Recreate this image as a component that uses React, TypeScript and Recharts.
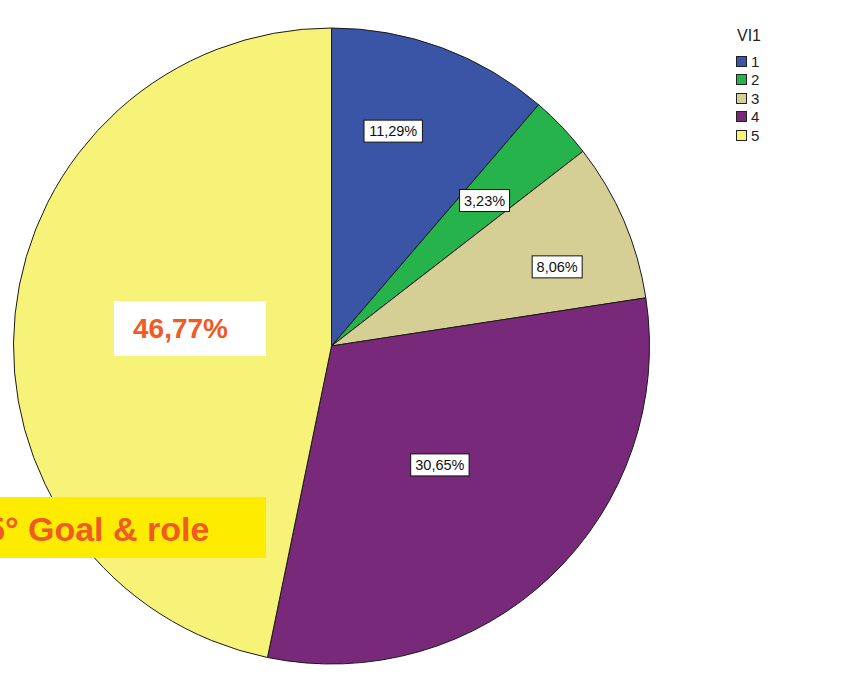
import React from "react";
import { Cell, Legend, Pie, PieChart } from "recharts";

const categories = ["1", "2", "3", "4", "5"];
// counts out of 62 respondents
const counts = [7, 2, 5, 19, 29];
const sliceLabels = ["11,29%", "3,23%", "8,06%", "30,65%", "46,77%"];
const colors = ["#3a55a5", "#27b34b", "#d5cf95", "#79297a", "#f6f378"];
const legendTitle = "VI1";
const bigLabel = "46,77%";
const bannerText = "5° Goal & role";

const data = categories.map((name, i) => ({
  name,
  value: counts[i],
  label: sliceLabels[i],
}));

const FONT = "'Liberation Sans', Arial, sans-serif";
const RADIAN = Math.PI / 180;
// label placement relative to each slice's middle
const labelRadius = [0.703, 0.664, 0.752, 0.506, 0.5];
const labelNudge = [4.3, 0, -3.9, -1.2, 0];

const renderLabel = (props: any) => {
  const { cx, cy, midAngle, outerRadius, index } = props;
  // the big slice's own label sits under the white overlay box
  if (index === 4) return null;
  const r = outerRadius * labelRadius[index];
  const a = (midAngle + labelNudge[index]) * RADIAN;
  const x = cx + r * Math.cos(-a);
  const y = cy + r * Math.sin(-a);
  const text = data[index].label;
  const w = text.length * 8.4 + 8;
  const h = 22;
  return (
    <g>
      <rect
        x={x - w / 2}
        y={y - h / 2}
        width={w}
        height={h}
        fill="#fff"
        stroke="#111"
        strokeWidth={1}
      />
      <text
        x={x}
        y={y + 5}
        textAnchor="middle"
        fontSize={14.5}
        fontFamily={FONT}
        fill="#111"
      >
        {text}
      </text>
    </g>
  );
};

const LegendContent = ({ payload }: any) => (
  <div style={{ fontFamily: FONT, color: "#222" }}>
    <div style={{ fontSize: 16, lineHeight: "18px", marginLeft: 1 }}>
      {legendTitle}
    </div>
    <div style={{ marginTop: 7 }}>
      {(payload || []).map((p: any, i: number) => (
        <div
          key={i}
          style={{
            display: "flex",
            alignItems: "center",
            height: 18.5,
            fontSize: 15,
          }}
        >
          <span
            style={{
              display: "inline-block",
              width: 9,
              height: 9,
              background: p.color,
              border: "1px solid #222",
              marginRight: 4,
            }}
          />
          {p.value}
        </div>
      ))}
    </div>
  </div>
);

export default function App() {
  return (
    <div
      style={{
        position: "absolute",
        left: 0,
        top: 0,
        width: 845,
        height: 680,
        background: "#fff",
        overflow: "hidden",
      }}
    >
      <PieChart width={845} height={680}>
        <Pie
          data={data}
          dataKey="value"
          nameKey="name"
          cx={326.5}
          cy={341}
          outerRadius={318}
          startAngle={90}
          endAngle={-270}
          stroke="#1a1a1a"
          strokeWidth={1}
          label={renderLabel}
          labelLine={false}
          isAnimationActive={false}
        >
          {data.map((d, i) => (
            <Cell key={d.name} fill={colors[i]} />
          ))}
        </Pie>
        <Legend
          layout="vertical"
          content={<LegendContent />}
          wrapperStyle={{ position: "absolute", left: 736, top: 27, width: 60 }}
        />
      </PieChart>
      <svg
        width={845}
        height={680}
        style={{ position: "absolute", left: 0, top: 0, pointerEvents: "none" }}
      >
        <rect x={114} y={301} width={152} height={55} fill="#fff" />
        <text
          x={133}
          y={338}
          fontSize={28}
          fontWeight="bold"
          fontFamily={FONT}
          fill="#f05a24"
        >
          {bigLabel}
        </text>
        <rect x={0} y={497} width={266} height={61} fill="#fdeb00" />
        <text
          x={-14}
          y={541}
          fontSize={34}
          fontWeight="bold"
          fontFamily={FONT}
          fill="#f05a24"
        >
          {bannerText}
        </text>
      </svg>
    </div>
  );
}
